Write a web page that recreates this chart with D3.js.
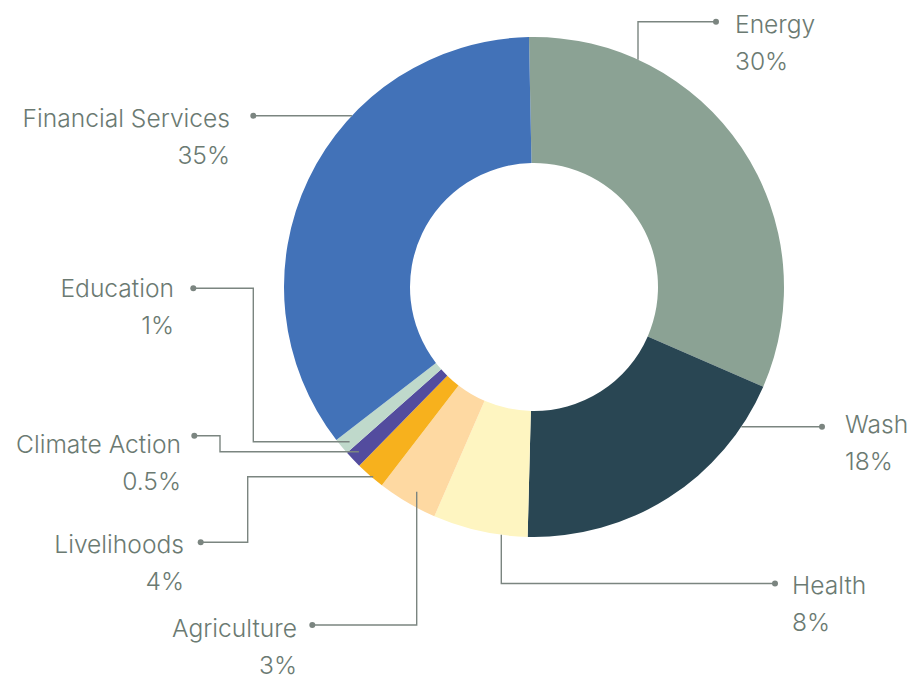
<!DOCTYPE html>
<html>
<head>
<meta charset="utf-8">
<script src="https://cdn.jsdelivr.net/npm/d3@7"></script>
<style>
  html, body { margin: 0; padding: 0; background: #ffffff; }
  svg { display: block; }
</style>
</head>
<body>
<svg id="chart" width="912" height="677"></svg>
<script>
// ---- data ----
const categories = ["Energy", "Wash", "Health", "Agriculture", "Livelihoods", "Climate Action", "Education", "Financial Services"];
const values = [31.85, 18.88, 6.12, 3.89, 1.91, 1.13, 1.06, 35.17];
const percentLabels = ["30%", "18%", "8%", "3%", "4%", "0.5%", "1%", "35%"];
const colors = ["#8ba294", "#294653", "#fef5c1", "#fed9a2", "#f7b11d", "#534c9e", "#bfd9cb", "#4272b8"];

// ---- layout ----
const cx = 534, cy = 287, R = 250, r = 124;
const startDeg = -1.15;
const textColor = "#6b7a72", lineColor = "#7b8580";
const lineGap = 37;

// leader layout: attach = fixed coordinate where the leader meets the ring,
// inset = how far the leader runs into the ring, pts = elbow & dot points
const leaders = [
  { attach: { x: 638 }, inset: 0, pts: [[638, 21.7], [716, 21.7]], tx: 735, ty: 33, anchor: "start" },
  { attach: { y: 426.7 }, inset: 0, pts: [[822, 426.7]], tx: 845, ty: 433, anchor: "start" },
  { attach: { x: 501.3 }, inset: 0, pts: [[501.3, 583.5], [775, 583.5]], tx: 792, ty: 594, anchor: "start" },
  { attach: { x: 416.7 }, inset: 16, pts: [[416.7, 625], [312.3, 625]], tx: 297, ty: 637, anchor: "end" },
  { attach: { y: 476.7 }, inset: 2, pts: [[247.7, 476.7], [247.7, 542.3], [200.7, 542.3]], tx: 184, ty: 553, anchor: "end" },
  { attach: { y: 451.7 }, inset: 13, pts: [[220, 451.7], [220, 435.7], [194.3, 435.7]], tx: 181, ty: 453, anchor: "end" },
  { attach: { y: 441.7 }, inset: 12, pts: [[253.3, 441.7], [253.3, 288.3], [193.3, 288.3]], tx: 174, ty: 297, anchor: "end" },
  { attach: { y: 115.7 }, inset: 0, pts: [[253.3, 115.7]], tx: 230, ty: 127.3, anchor: "end" }
];

const svg = d3.select("#chart");
const data = categories.map((c, i) => ({ name: c, value: values[i], pct: percentLabels[i], color: colors[i] }));

const pie = d3.pie().sort(null).value(d => d.value)
  .startAngle(startDeg * Math.PI / 180)
  .endAngle(startDeg * Math.PI / 180 + 2 * Math.PI);
const arc = d3.arc().innerRadius(r).outerRadius(R);

const g = svg.append("g").attr("transform", `translate(${cx},${cy})`);
g.selectAll("path.slice")
  .data(pie(data))
  .join("path")
  .attr("class", "slice")
  .attr("d", arc)
  .attr("fill", d => d.data.color);

// leaders
const lg = svg.append("g");
leaders.forEach((L, i) => {
  let p0;
  if (L.attach.x !== undefined) {
    const dx = L.attach.x - cx;
    const dy = Math.sqrt(R * R - dx * dx);
    const sgn = L.pts[0][1] < cy ? -1 : 1;
    p0 = [L.attach.x, cy + sgn * (dy - L.inset)];
  } else {
    const dy = L.attach.y - cy;
    const dx = Math.sqrt(R * R - dy * dy);
    const sgn = L.pts[0][0] < cx ? -1 : 1;
    p0 = [cx + sgn * (dx - L.inset), L.attach.y];
  }
  const pts = [p0].concat(L.pts);
  lg.append("path")
    .attr("d", d3.line()(pts))
    .attr("fill", "none")
    .attr("stroke", lineColor)
    .attr("stroke-width", 1.4);
  const last = pts[pts.length - 1];
  lg.append("circle").attr("cx", last[0]).attr("cy", last[1]).attr("r", 3).attr("fill", lineColor);

  const t = lg.append("text")
    .attr("x", L.tx).attr("y", L.ty)
    .attr("text-anchor", L.anchor)
    .attr("fill", textColor)
    .style("font-family", "Inter, 'Noto Sans', sans-serif")
    .style("font-weight", 300)
    .style("font-size", "24.6px");
  t.append("tspan").attr("x", L.tx).text(data[i].name);
  t.append("tspan").attr("x", L.tx).attr("dy", lineGap).text(data[i].pct);
});
</script>
</body>
</html>
